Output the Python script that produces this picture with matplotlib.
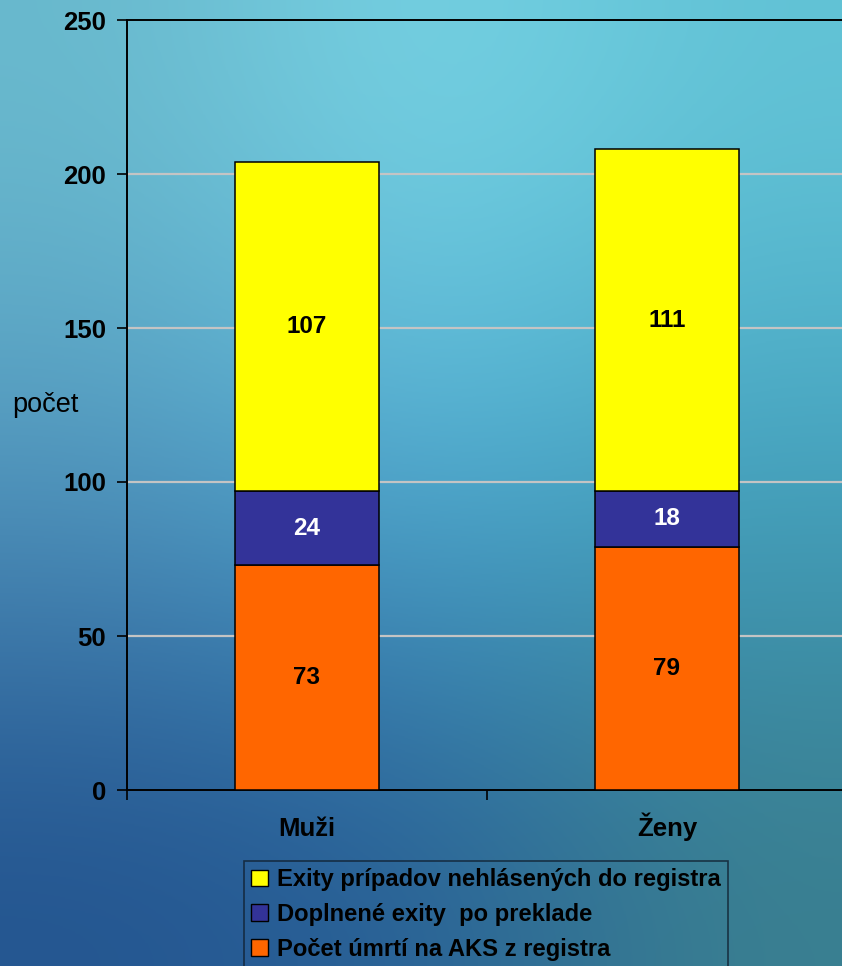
import numpy as np
import matplotlib
matplotlib.use("Agg")
import matplotlib.pyplot as plt
from matplotlib.patches import Patch
from matplotlib.transforms import blended_transform_factory

categories = ["Muži", "Ženy"]
orange_vals = [73, 79]     # Počet úmrtí na AKS z registra
navy_vals = [24, 18]       # Doplnené exity po preklade
yellow_vals = [107, 111]   # Exity prípadov nehlásených do registra
series_labels = ["Počet úmrtí na AKS z registra",
                 "Doplnené exity  po preklade",
                 "Exity prípadov nehlásených do registra"]
yticks = [0, 50, 100, 150, 200, 250]

plt.rcParams['font.family'] = ['Liberation Sans', 'DejaVu Sans']

W, H = 842, 966
fig = plt.figure(figsize=(W / 100, H / 100), dpi=100)

# background gradient
bg = fig.add_axes([0, 0, 1, 1], zorder=-10)
grid = np.array([
    [[105, 185, 205], [122, 214, 230], [98, 195, 214]],
    [[82, 150, 190], [79, 176, 216], [65, 160, 190]],
    [[35, 84, 143], [40, 95, 150], [58, 127, 143]],
], dtype=float) / 255.0
bg.imshow(grid, extent=[0, 1, 0, 1], aspect='auto', interpolation='bicubic',
          origin='upper')
bg.set_xlim(0, 1); bg.set_ylim(0, 1)
bg.axis('off')

ax = fig.add_axes([127 / W, 1 - 790 / H, 720 / W, 770 / H])
ax.patch.set_alpha(0)

x = np.arange(len(categories))
w = 0.4
c_orange, c_navy, c_yellow = "#FF6600", "#333399", "#FFFF00"
ax.bar(x, orange_vals, w, color=c_orange, edgecolor='black', linewidth=1.1, zorder=3)
ax.bar(x, navy_vals, w, bottom=orange_vals, color=c_navy, edgecolor='black', linewidth=1.1, zorder=3)
bot2 = np.array(orange_vals) + np.array(navy_vals)
ax.bar(x, yellow_vals, w, bottom=bot2, color=c_yellow, edgecolor='black', linewidth=1.1, zorder=3)

lbl_fs = 17.5
for i in range(len(categories)):
    ax.text(x[i], orange_vals[i] / 2, str(orange_vals[i]), ha='center', va='center',
            fontsize=lbl_fs, fontweight='bold', color='black', zorder=4)
    ax.text(x[i], orange_vals[i] + navy_vals[i] / 2, str(navy_vals[i]), ha='center', va='center',
            fontsize=lbl_fs, fontweight='bold', color='white', zorder=4)
    ax.text(x[i], bot2[i] + yellow_vals[i] / 2, str(yellow_vals[i]), ha='center', va='center',
            fontsize=lbl_fs, fontweight='bold', color='black', zorder=4)

ax.set_xlim(-0.5, 1.5)
ax.set_ylim(0, 250)
ax.set_yticks(yticks)
ax.set_yticklabels([str(t) for t in yticks], fontsize=18.5, fontweight='bold')
ax.tick_params(axis='y', length=7, width=1.2, pad=8, direction='out')
ax.set_xticks([-0.5, 0.5, 1.5])
ax.set_xticklabels([])
ax.tick_params(axis='x', which='major', length=7, width=1.2, direction='out')

trans = blended_transform_factory(ax.transData, ax.transAxes)
for i, c in enumerate(categories):
    ax.text(x[i], -46 / 770, c, transform=trans, ha='center', va='baseline',
            fontsize=18.5, fontweight='bold', clip_on=False)

for yv in yticks[1:-1]:
    ax.axhline(yv, color='#c4c4c4', linewidth=1.6, zorder=1)

for s in ['left', 'bottom', 'top']:
    ax.spines[s].set_color('black')
    ax.spines[s].set_linewidth(1.4)
ax.spines['right'].set_visible(False)

fig.text(12 / W, 1 - 405 / H, "počet", fontsize=19.5, va='center', ha='left')

handles = [Patch(facecolor=c_yellow, edgecolor='black'),
           Patch(facecolor=c_navy, edgecolor='black'),
           Patch(facecolor=c_orange, edgecolor='black')]
labels = [series_labels[2], series_labels[1], series_labels[0]]
leg = fig.legend(handles, labels, loc='upper left',
                 bbox_to_anchor=(244 / W, 1 - 861 / H),
                 prop={'size': 17.1, 'weight': 'bold'},
                 frameon=True, fancybox=False, handlelength=0.7, handleheight=0.7,
                 handletextpad=0.4, labelspacing=0.5, borderpad=0.3, borderaxespad=0)
leg.get_frame().set_facecolor('none')
leg.get_frame().set_edgecolor('#102030')
leg.get_frame().set_linewidth(1.2)

fig.savefig("out.png", dpi=100)
